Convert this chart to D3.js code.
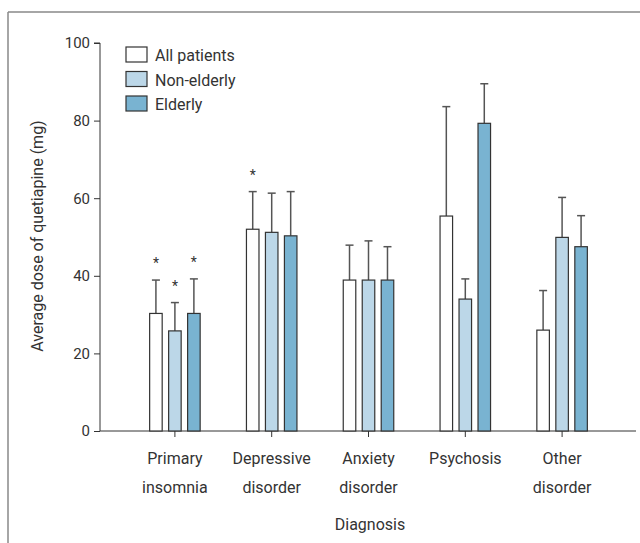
<!DOCTYPE html>
<html><head><meta charset="utf-8">
<script src="https://cdn.jsdelivr.net/npm/d3@7"></script>
<style>body{margin:0;background:#fff}svg{display:block}text{font-family:Roboto,"Noto Sans",sans-serif;fill:#333}</style>
</head><body><svg id="c" width="640" height="543"></svg>
<script>
const categories = [["Primary","insomnia"],["Depressive","disorder"],["Anxiety","disorder"],["Psychosis"],["Other","disorder"]];
const series = ["All patients","Non-elderly","Elderly"];
const colors = ["#ffffff","#bcd7e8","#79b3d1"];
const allPatients = [30.3, 52.0, 38.9, 55.4, 26.0];
const allPatientsErr = [38.9, 61.7, 47.9, 83.6, 36.2];
const nonElderly = [25.8, 51.2, 38.9, 34.0, 49.9];
const nonElderlyErr = [33.1, 61.3, 49.0, 39.2, 60.2];
const elderly = [30.3, 50.3, 38.9, 79.3, 47.5];
const elderlyErr = [39.2, 61.7, 47.5, 89.5, 55.5];
// significance markers: [category index, series index]
const stars = [[0,0],[0,1],[0,2],[1,0]];
const yTicks = [0,20,40,60,80,100];

const values = [allPatients, nonElderly, elderly];
const errs = [allPatientsErr, nonElderlyErr, elderlyErr];
const svg = d3.select("#c");

// frame
svg.append("line").attr("x1",8).attr("x2",640).attr("y1",12).attr("y2",12).attr("stroke","#888").attr("stroke-width",1.5);
svg.append("line").attr("x1",8).attr("x2",8).attr("y1",12).attr("y2",543).attr("stroke","#888").attr("stroke-width",1.5);

const y = d3.scaleLinear().domain([0,100]).range([431,43]);
const x = d3.scaleBand().domain(d3.range(categories.length)).range([126.5,610.5]);
const xs = d3.scaleBand().domain(d3.range(series.length)).range([-25.25,25.25]).paddingInner(0.34);

const yAxis = svg.append("g").attr("transform","translate(100,0)")
  .call(d3.axisLeft(y).tickValues(yTicks).tickSize(6).tickPadding(4));
yAxis.select(".domain").attr("stroke","#333").attr("d","M-6,"+y(100)+"H0V"+y(0));
yAxis.selectAll(".tick line").attr("stroke","#333");
yAxis.selectAll(".tick text").style("font-size","15px").attr("fill","#333");

const xAxis = svg.append("g").attr("transform","translate(0,431)")
  .call(d3.axisBottom(x).tickSize(6).tickFormat(""));
xAxis.select(".domain").attr("stroke","#333").attr("d","M100,0H636");
xAxis.selectAll(".tick line").attr("stroke","#333");
xAxis.selectAll(".tick").each(function(d){
  const t = d3.select(this).append("text").attr("text-anchor","middle").style("font-size","16px");
  categories[d].forEach((s,i)=>t.append("tspan").attr("x",0).attr("y",33+i*29).text(s));
});

const g = svg.append("g");
categories.forEach((c,ci)=>{
  series.forEach((s,si)=>{
    const cx = x(ci)+x.bandwidth()/2;
    const bx = cx + xs(si);
    const bw = xs.bandwidth();
    const mid = bx + bw/2;
    // error bar
    g.append("line").attr("x1",mid).attr("x2",mid).attr("y1",y(values[si][ci])).attr("y2",y(errs[si][ci])).attr("stroke","#555").attr("stroke-width",1.5);
    g.append("line").attr("x1",mid-4).attr("x2",mid+4).attr("y1",y(errs[si][ci])).attr("y2",y(errs[si][ci])).attr("stroke","#555").attr("stroke-width",1.5);
    g.append("rect").attr("x",bx).attr("y",y(values[si][ci])).attr("width",bw).attr("height",y(0)-y(values[si][ci]))
      .attr("fill",colors[si]).attr("stroke","#333").attr("stroke-width",1.2);
  });
});
stars.forEach(([ci,si])=>{
  const mid = x(ci)+x.bandwidth()/2 + xs(si) + xs.bandwidth()/2;
  svg.append("text").attr("x",mid).attr("y",y(errs[si][ci])-12).attr("text-anchor","middle").style("font-size","14px").text("*");
});

// legend
const lg = svg.append("g");
series.forEach((s,i)=>{
  lg.append("rect").attr("x",126).attr("y",47+i*24.5).attr("width",21).attr("height",15).attr("fill",colors[i]).attr("stroke","#333").attr("stroke-width",1.2);
  lg.append("text").attr("x",155).attr("y",61+i*24.5).style("font-size","16px").text(s);
});

svg.append("text").attr("transform","translate(43,236) rotate(-90)").attr("text-anchor","middle").style("font-size","16px").text("Average dose of quetiapine (mg)");
svg.append("text").attr("x",370).attr("y",530).attr("text-anchor","middle").style("font-size","16px").text("Diagnosis");
</script></body></html>
